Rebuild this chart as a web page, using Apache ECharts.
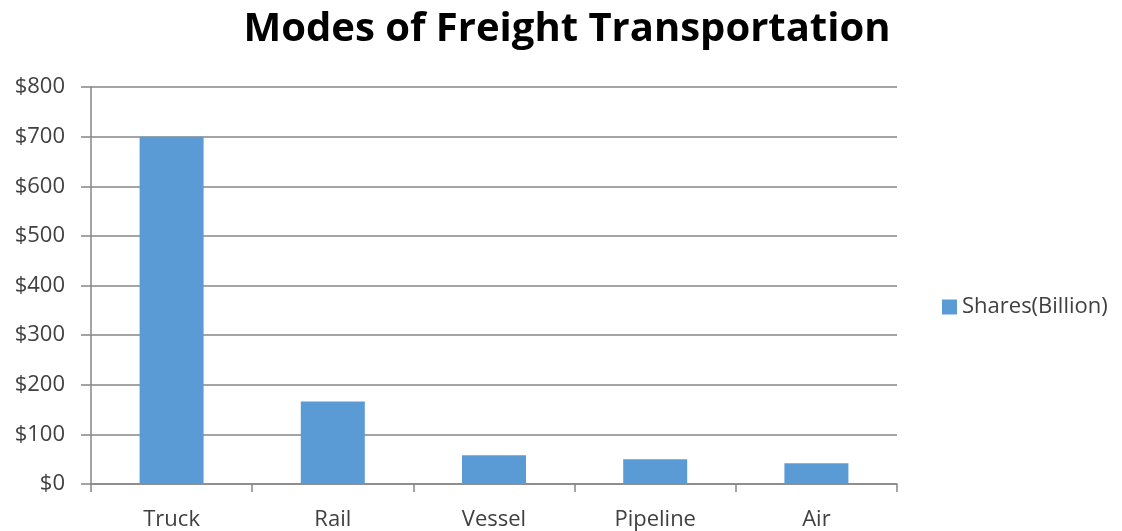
<!DOCTYPE html>
<html>
<head>
<meta charset="utf-8">
<script src="https://cdn.jsdelivr.net/npm/echarts@6/dist/echarts.min.js"></script>
<style>
  html, body { margin: 0; padding: 0; background: #fff; }
  #chart { width: 1122px; height: 531px; }
</style>
</head>
<body>
<div id="chart"></div>
<script>
// Freight modes and their shares, in billions of dollars
const categories = ['Truck', 'Rail', 'Vessel', 'Pipeline', 'Air'];
const shares = [700, 166, 58, 50, 42];
const seriesName = 'Shares(Billion)';
const yTicks = { min: 0, max: 800, step: 100 };

const chart = echarts.init(document.getElementById('chart'));
const font = '"Open Sans", "Noto Sans", sans-serif';

chart.setOption({
  animation: false,
  backgroundColor: '#ffffff',
  title: {
    text: 'Modes of Freight Transportation',
    left: 562,
    textAlign: 'center',
    top: 5,
    textStyle: { fontFamily: font, fontSize: 40, fontWeight: 'bold', color: '#000' }
  },
  legend: {
    orient: 'vertical',
    left: 937,
    top: 291,
    itemWidth: 15,
    itemHeight: 15,
    itemGap: 4,
    icon: 'rect',
    textStyle: { fontFamily: font, fontSize: 22, color: '#404040' },
    data: [seriesName]
  },
  grid: { left: 91, right: 225, top: 87, bottom: 47, containLabel: false },
  xAxis: {
    type: 'category',
    data: categories,
    axisLine: { lineStyle: { color: '#868686', width: 1.5 } },
    axisTick: { show: true, length: 8, alignWithLabel: false, lineStyle: { color: '#868686', width: 1.5 } },
    axisLabel: { fontFamily: font, fontSize: 22, color: '#404040', margin: 25 }
  },
  yAxis: {
    type: 'value',
    min: yTicks.min,
    max: yTicks.max,
    interval: yTicks.step,
    axisLine: { show: true, lineStyle: { color: '#868686', width: 1.5 } },
    axisTick: { show: true, length: 10, lineStyle: { color: '#868686', width: 1.5 } },
    splitLine: { lineStyle: { color: '#868686', width: 1.5 } },
    axisLabel: {
      fontFamily: font, fontSize: 22, color: '#404040', margin: 26,
      formatter: v => '$' + v
    }
  },
  series: [{
    name: seriesName,
    type: 'bar',
    data: shares,
    barWidth: 64,
    itemStyle: { color: '#5B9BD5' }
  }]
});
</script>
</body>
</html>
